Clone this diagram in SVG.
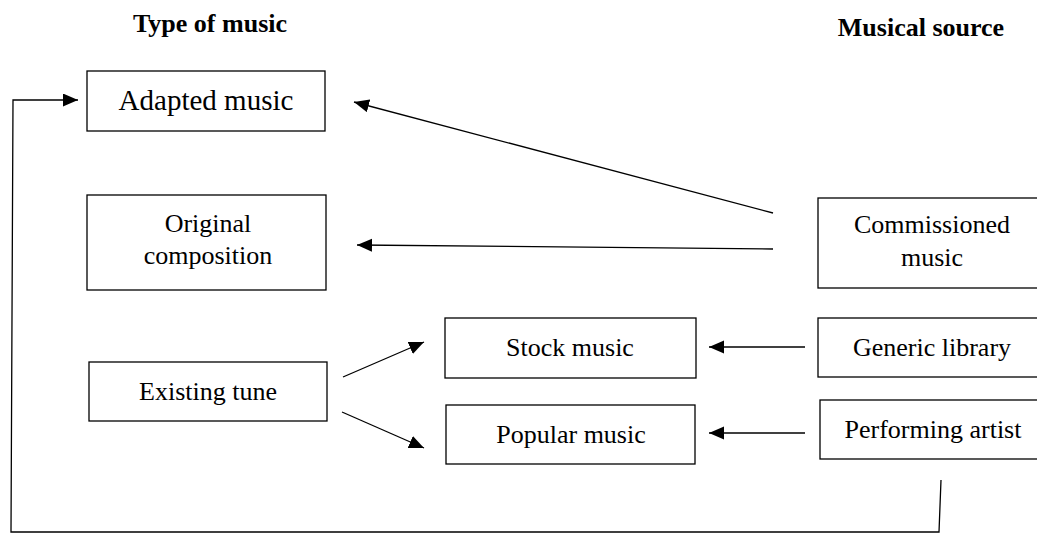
<svg xmlns="http://www.w3.org/2000/svg" width="1037" height="535" viewBox="0 0 1037 535">
  <style>
    .box { fill: #fff; stroke: #000; stroke-width: 1.3; }
    .lbl { font-family: "Liberation Serif", "Times New Roman", serif; font-size: 26px; fill: #000; text-anchor: middle; }
    .big { font-size: 29px; }
    .head { font-family: "Liberation Serif", "Times New Roman", serif; font-size: 26px; font-weight: bold; fill: #000; text-anchor: middle; }
    .wire { fill: none; stroke: #000; stroke-width: 1.3; }
    .arrow { marker-end: url(#head); }
  </style>
  <defs>
    <marker id="head" markerUnits="userSpaceOnUse" markerWidth="16" markerHeight="14" refX="15" refY="6.5" orient="auto">
      <path d="M0,0 L15,6.5 L0,13 Z" fill="#000"/>
    </marker>
  </defs>

  <rect width="1037" height="535" fill="#fff"/>

  <!-- column headings -->
  <g id="headings">
    <text class="head" x="210" y="32">Type of music</text>
    <text class="head" x="921" y="36">Musical source</text>
  </g>

  <!-- types of music -->
  <g id="adapted">
    <rect class="box" x="87" y="71" width="238" height="60"/>
    <text class="lbl big" x="206" y="110">Adapted music</text>
  </g>
  <g id="original">
    <rect class="box" x="87" y="195" width="239" height="95"/>
    <text class="lbl" x="208" y="232">Original</text>
    <text class="lbl" x="208" y="264">composition</text>
  </g>
  <g id="existing">
    <rect class="box" x="89" y="362" width="238" height="59"/>
    <text class="lbl" x="208" y="400">Existing tune</text>
  </g>
  <g id="stock">
    <rect class="box" x="445" y="318" width="251" height="60"/>
    <text class="lbl" x="570" y="356">Stock music</text>
  </g>
  <g id="popular">
    <rect class="box" x="446" y="405" width="249" height="59"/>
    <text class="lbl" x="571" y="443">Popular music</text>
  </g>

  <!-- musical sources (boxes run past the right edge) -->
  <g id="commissioned">
    <rect class="box" x="818" y="198" width="240" height="90"/>
    <text class="lbl" x="932" y="233">Commissioned</text>
    <text class="lbl" x="932" y="266">music</text>
  </g>
  <g id="generic">
    <rect class="box" x="818" y="318" width="240" height="59"/>
    <text class="lbl" x="932" y="356">Generic library</text>
  </g>
  <g id="performing">
    <rect class="box" x="820" y="400" width="240" height="59"/>
    <text class="lbl" x="933" y="438">Performing artist</text>
  </g>

  <!-- connectors -->
  <g id="connectors">
    <line class="wire arrow" x1="773" y1="213" x2="354" y2="102"/>
    <line class="wire arrow" x1="773" y1="249" x2="357" y2="245"/>
    <line class="wire arrow" x1="805" y1="347" x2="709" y2="347"/>
    <line class="wire arrow" x1="805" y1="433" x2="709" y2="433"/>
    <line class="wire arrow" x1="343" y1="377" x2="424" y2="342"/>
    <line class="wire arrow" x1="342" y1="412" x2="424" y2="448"/>
    <polyline class="wire arrow" points="941,480 939,532 11,532 13,100 78,100"/>
  </g>
</svg>
